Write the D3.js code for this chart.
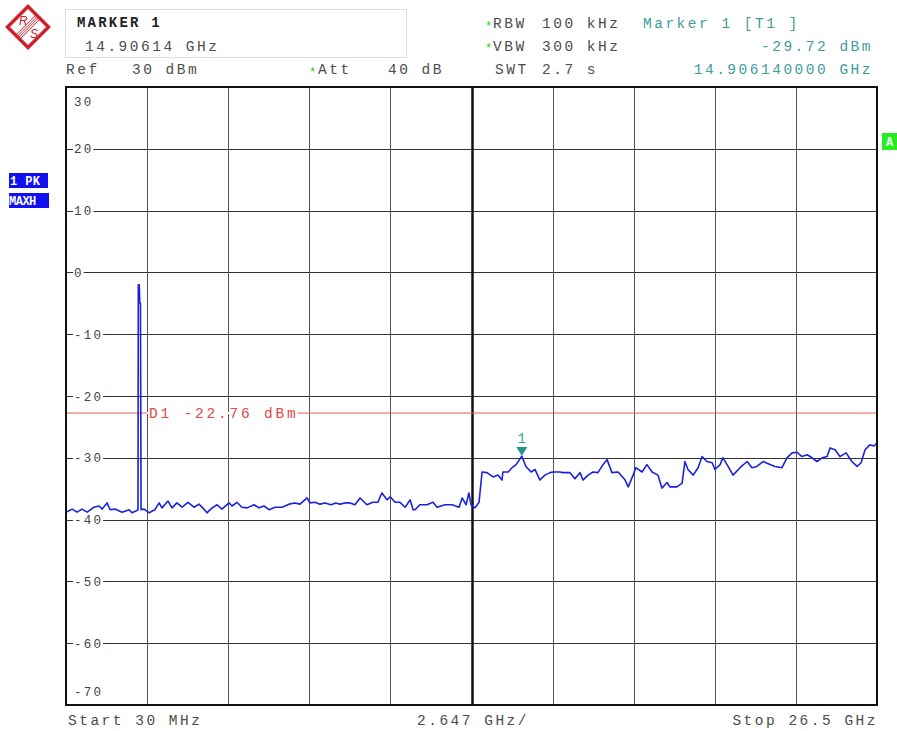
<!DOCTYPE html>
<html><head><meta charset="utf-8">
<script src="https://cdn.jsdelivr.net/npm/d3@7"></script>
<style>body{margin:0;background:#fff}svg text{font-family:'Liberation Mono','DejaVu Sans Mono',monospace}</style>
</head><body><svg id="c" width="897" height="731"></svg>
<script>
// ---- data ----
const startGHz = 0.03, stopGHz = 26.5;
const refLevel = 30, bottomLevel = -70;
const yTickValues = [30, 20, 10, 0, -10, -20, -30, -40, -50, -60, -70];
const xGridGHz = [0.03, 2.677, 5.324, 7.971, 10.618, 13.265, 15.912, 18.559, 21.206, 23.853, 26.5];
const displayLineDbm = -22.76;
const markerGHz = 14.90614, markerDbm = -29.72;
const traceGHz = [0.03,0.23,0.39,0.55,0.72,0.94,1.11,1.21,1.37,1.47,1.63,1.86,2.09,2.18,2.31,2.38,
 2.39,2.42,2.44,2.46,2.48,2.58,2.74,2.93,3.07,3.16,3.36,3.49,3.65,3.82,4.01,4.21,4.37,4.53,4.63,4.80,4.96,5.12,
 5.35,5.45,5.61,5.77,5.94,6.17,6.33,6.49,6.66,6.85,7.08,7.31,7.50,7.67,7.90,7.99,8.16,8.32,8.48,8.68,8.84,
 8.97,9.14,9.30,9.46,9.63,9.85,10.05,10.21,10.34,10.51,10.61,10.77,10.93,11.10,11.26,11.36,11.42,11.58,11.81,
 12.01,12.14,12.40,12.63,12.86,12.96,13.09,13.18,13.25,13.38,13.51,13.61,13.77,13.97,14.13,14.26,14.29,14.46,
 14.59,14.72,14.906,15.04,15.21,15.34,15.50,15.66,15.83,15.93,16.15,16.25,16.48,16.64,16.81,16.90,17.07,17.23,
 17.39,17.56,17.69,17.85,18.05,18.28,18.38,18.54,18.63,18.83,18.99,19.16,19.35,19.48,19.65,19.74,19.97,20.14,
 20.23,20.33,20.50,20.66,20.79,20.95,21.12,21.21,21.38,21.47,21.64,21.80,22.03,22.26,22.42,22.58,22.78,23.01,
 23.17,23.40,23.56,23.73,23.89,24.05,24.22,24.38,24.54,24.71,24.87,24.97,25.13,25.29,25.49,25.68,25.85,25.98,
 26.11,26.27,26.40,26.50];
const traceDbm = [-38.8,-38.3,-38.8,-38.3,-38.8,-38.0,-37.8,-38.3,-37.3,-38.4,-38.3,-38.8,-38.4,-38.9,-38.6,-38.4,
 -2.0,-2.0,-5.0,-5.0,-38.4,-38.3,-38.9,-38.4,-37.3,-38.1,-37.0,-38.1,-37.3,-38.0,-37.2,-38.0,-37.5,-38.3,-38.9,-38.1,-37.6,-38.3,
 -37.3,-37.8,-37.2,-38.0,-38.1,-37.6,-38.1,-37.8,-38.4,-38.0,-38.0,-37.5,-37.3,-37.5,-36.5,-37.3,-37.2,-37.5,-37.3,-37.6,-37.3,
 -37.5,-37.3,-37.3,-37.6,-36.5,-37.6,-37.2,-37.2,-35.7,-36.8,-36.3,-37.2,-37.2,-38.0,-36.8,-38.4,-38.4,-37.6,-37.6,
 -37.2,-38.0,-37.6,-37.6,-38.0,-36.5,-37.6,-35.7,-37.6,-38.1,-37.2,-32.3,-32.4,-33.1,-32.8,-33.6,-32.3,-32.3,
 -31.6,-31.1,-29.72,-31.4,-32.3,-31.9,-33.6,-32.8,-32.4,-32.3,-32.3,-32.4,-32.4,-33.4,-32.4,-33.6,-32.8,-32.3,
 -32.4,-31.1,-30.3,-32.4,-32.3,-33.6,-34.7,-32.8,-31.6,-32.3,-31.1,-32.3,-32.8,-34.9,-34.0,-34.7,-34.7,-34.1,
 -30.6,-31.9,-32.8,-31.6,-29.8,-30.6,-30.8,-31.9,-31.1,-30.0,-31.4,-32.8,-31.6,-30.6,-31.6,-31.4,-30.6,-31.1,
 -31.4,-31.6,-30.0,-29.2,-29.1,-29.8,-29.5,-30.0,-30.6,-30.0,-29.8,-28.4,-28.7,-29.8,-29.2,-30.6,-31.4,-30.8,
 -28.7,-27.9,-28.1,-27.6];

// ---- chart ----
const svg = d3.select('#c');
const L = 66, R = 877, T = 87, B = 705;
const x = d3.scaleLinear([startGHz, stopGHz], [L, R]);
const y = d3.scaleLinear([bottomLevel, refLevel], [B, T]);
const txtCol = '#4d4d4d', teal = '#3f9c9c';

// logo
const logo = svg.append('g').attr('transform', 'translate(28,27)');
logo.append('rect').attr('x', -14.5).attr('y', -14.5).attr('width', 29).attr('height', 29)
  .attr('transform', 'rotate(45)').attr('fill', '#fff').attr('stroke', '#d0202c').attr('stroke-width', 3.5);
[-3, -1, 1, 3].forEach(o => {
  logo.append('line').attr('x1', -11 + o * 0.7).attr('y1', 11 + o * 0.7).attr('x2', 11 + o * 0.7).attr('y2', -11 + o * 0.7)
    .attr('stroke', '#d0202c').attr('stroke-width', 1);
});
logo.append('text').attr('x', -9).attr('y', -2).attr('font-size', 12).attr('fill', '#d0202c')
  .style('font-family', 'Liberation Sans, sans-serif').style('font-style', 'italic').text('R');
logo.append('text').attr('x', 2).attr('y', 11).attr('font-size', 12).attr('fill', '#d0202c')
  .style('font-family', 'Liberation Sans, sans-serif').style('font-style', 'italic').text('S');

// marker box
svg.append('rect').attr('x', 65.5).attr('y', 9.5).attr('width', 341).attr('height', 48)
  .attr('fill', 'none').attr('stroke', '#bbb').attr('stroke-dasharray', '1,1');

function t(xp, yp, s, opt = {}) {
  const e = svg.append('text').attr('x', xp).attr('y', yp).text(s)
    .attr('font-size', opt.size || 14.5).attr('fill', opt.fill || txtCol)
    .style('letter-spacing', (opt.ls != null ? opt.ls : 2.5) + 'px')
    .attr('text-anchor', opt.anchor || 'start').attr('xml:space', 'preserve');
  if (opt.bold) e.attr('font-weight', 'bold');
  return e;
}
t(77, 27, 'MARKER 1', { bold: true, fill: '#222', size: 14, ls: 2.2 });
t(85, 51, '14.90614 GHz');
t(66, 74, 'Ref');
t(132, 74, '30 dBm');
t(309, 76, '*', { fill: '#22cc22', size: 12, ls: 0 });
t(318, 74, 'Att');
t(388, 74, '40 dB');
t(485, 30, '*', { fill: '#22cc22', size: 12, ls: 0 });
t(493, 28, 'RBW');
t(542, 28, '100 kHz');
t(485, 52, '*', { fill: '#22cc22', size: 12, ls: 0 });
t(493, 51, 'VBW');
t(542, 51, '300 kHz');
t(495, 74, 'SWT');
t(542, 74, '2.7 s');
t(643, 28, 'Marker 1 [T1 ]', { fill: teal });
t(873, 51, '-29.72 dBm', { fill: teal, anchor: 'end' });
t(873, 74, '14.906140000 GHz', { fill: teal, anchor: 'end' });

// left trace labels
svg.append('rect').attr('x', 9).attr('y', 173).attr('width', 39).attr('height', 15).attr('fill', '#1010f0');
svg.append('rect').attr('x', 9).attr('y', 193).attr('width', 40).attr('height', 15).attr('fill', '#1010f0');
t(10, 185, '1 PK', { fill: '#fff', bold: true, size: 12, ls: 0.4 });
t(9, 205, 'MAXH', { fill: '#fff', bold: true, size: 12, ls: -0.5 });
// right green indicator
svg.append('rect').attr('x', 882).attr('y', 133).attr('width', 15).attr('height', 17).attr('fill', '#22ee22');
t(886, 146, 'A', { fill: '#fff', bold: true, size: 12, ls: 0 });

// grid
const grid = svg.append('g');
grid.selectAll('.hg').data(yTickValues.filter(v => v < refLevel && v > bottomLevel)).join('line')
  .attr('x1', L).attr('x2', R).attr('y1', d => Math.round(y(d)) + 0.5).attr('y2', d => Math.round(y(d)) + 0.5)
  .attr('stroke', '#333').attr('stroke-width', 1);
grid.selectAll('.vg').data(xGridGHz.slice(1, -1)).join('line')
  .attr('y1', T).attr('y2', B).attr('x1', d => Math.round(x(d)) + 0.5).attr('x2', d => Math.round(x(d)) + 0.5)
  .attr('stroke', d => Math.abs(d - 13.265) < 0.01 ? '#111' : '#555')
  .attr('stroke-width', d => Math.abs(d - 13.265) < 0.01 ? 2.5 : 1);

// y labels
yTickValues.forEach(v => {
  let yp = y(v);
  if (v === refLevel) yp = T + 14;
  else if (v === bottomLevel) yp = B - 14;
  const lab = t(74, yp + 4.5, String(v), { size: 12.5, ls: 2.2, fill: '#444' });
  if (v < refLevel && v > bottomLevel) {
    const bb = lab.node().getBBox();
    svg.insert('rect', () => lab.node()).attr('x', bb.x - 1).attr('y', yp - 6).attr('width', bb.width + 1).attr('height', 12).attr('fill', '#fff');
  }
});

// display line D1
svg.append('line').attr('x1', L).attr('x2', R).attr('y1', y(displayLineDbm)).attr('y2', y(displayLineDbm))
  .attr('stroke', '#ee5a55').attr('stroke-width', 1);
const d1 = t(149, y(displayLineDbm) + 4.5, 'D1 -22.76 dBm', { fill: '#e04844', size: 14.5, ls: 2.8 });
const dbb = d1.node().getBBox();
svg.insert('rect', () => d1.node()).attr('x', dbb.x - 2).attr('y', y(displayLineDbm) - 1).attr('width', dbb.width + 1).attr('height', 2).attr('fill', '#fff');

// trace
svg.append('clipPath').attr('id', 'cp').append('rect').attr('x', L).attr('y', T).attr('width', R - L).attr('height', B - T);
const pts = traceGHz.map((f, i) => [f, traceDbm[i]]);
svg.append('path').datum(pts).attr('clip-path', 'url(#cp)')
  .attr('d', d3.line().x(d => x(d[0])).y(d => y(d[1])))
  .attr('fill', 'none').attr('stroke', '#1a22dd').attr('stroke-width', 1.6).attr('stroke-linejoin', 'round');

// marker
const mx = x(markerGHz), my = y(markerDbm);
svg.append('path').attr('d', `M${mx - 5.5},${my - 9} L${mx + 5.5},${my - 9} L${mx},${my} Z`).attr('fill', '#2a9488');
t(mx, my - 13, '1', { fill: teal, size: 14, ls: 0, anchor: 'middle' });

// frame
svg.append('rect').attr('x', L).attr('y', T).attr('width', R - L).attr('height', B - T)
  .attr('fill', 'none').attr('stroke', '#111').attr('stroke-width', 2);

// bottom labels
t(68, 725, 'Start 30 MHz');
t(417, 725, '2.647 GHz/');
t(878, 725, 'Stop 26.5 GHz', { anchor: 'end' });
</script></body></html>
